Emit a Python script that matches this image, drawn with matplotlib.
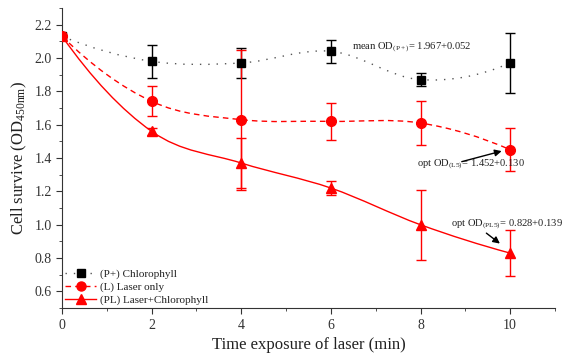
import matplotlib

matplotlib.use("Agg")

import matplotlib.pyplot as plt
import numpy as np
from matplotlib.lines import Line2D
from matplotlib.patches import PathPatch
from matplotlib.path import Path
from matplotlib.ticker import MultipleLocator

plt.rcParams["font.family"] = ["Liberation Serif", "DejaVu Serif"]
plt.rcParams["mathtext.fontset"] = "custom"
plt.rcParams["mathtext.rm"] = "Liberation Serif"
plt.rcParams["mathtext.it"] = "Liberation Serif"

time_min = [0, 2, 4, 6, 8, 10]

p_chl = [2.13, 1.98, 1.97, 2.04, 1.87, 1.97]
p_chl_err = [0.0, 0.10, 0.09, 0.07, 0.04, 0.18]

laser = [2.13, 1.74, 1.63, 1.62, 1.61, 1.45]
laser_err = [0.0, 0.09, 0.42, 0.11, 0.13, 0.13]

laser_chl = [2.13, 1.56, 1.37, 1.22, 1.00, 0.83]
laser_chl_err = [0.0, 0.02, 0.15, 0.04, 0.21, 0.14]

legend_labels = ["(P+) Chlorophyll", "(L) Laser only", "(PL) Laser+Chlorophyll"]


def smooth_path(x, y):
    # cubic bezier through the points, Catmull-Rom style tangents
    x = np.asarray(x, float)
    y = np.asarray(y, float)
    n = len(x)
    m = np.zeros(n)
    for i in range(1, n - 1):
        m[i] = (y[i + 1] - y[i - 1]) / (x[i + 1] - x[i - 1])
    m[0] = 2 * (y[1] - y[0]) / (x[1] - x[0]) - m[1]
    m[-1] = 2 * (y[-1] - y[-2]) / (x[-1] - x[-2]) - m[-2]
    verts = [(x[0], y[0])]
    codes = [Path.MOVETO]
    for i in range(n - 1):
        h = x[i + 1] - x[i]
        verts += [
            (x[i] + h / 3, y[i] + m[i] * h / 3),
            (x[i + 1] - h / 3, y[i + 1] - m[i + 1] * h / 3),
            (x[i + 1], y[i + 1]),
        ]
        codes += [Path.CURVE4] * 3
    return Path(verts, codes)


fig, ax = plt.subplots(figsize=(5.64, 3.6), dpi=100)
fig.subplots_adjust(left=0.110, right=0.984, bottom=0.144, top=0.978)

styles = [
    (p_chl, p_chl_err, "#555555", "black", "s", (0, (1, 5)), 6),
    (laser, laser_err, "red", "red", "o", (0, (4, 3)), 7),
    (laser_chl, laser_chl_err, "red", "red", "^", "-", 7),
]
handles = []
for (vals, errs, lcol, mcol, mk, ls, ms), label in zip(styles, legend_labels):
    ax.add_patch(PathPatch(smooth_path(time_min, vals), fill=False,
                           edgecolor=lcol, linestyle=ls, linewidth=1.0, zorder=2))
    ax.errorbar(time_min, vals, yerr=errs, fmt=mk, color=mcol, ecolor=mcol,
                markersize=ms, elinewidth=1.0, capsize=3.5, capthick=1.0, zorder=3)
    handles.append(Line2D([], [], color=lcol, linestyle=ls,
                          marker=mk, markersize=ms - 0.5, markerfacecolor=mcol,
                          markeredgecolor=mcol, linewidth=1.0))

ax.set_xlim(0, 11)
ax.set_ylim(0.5, 2.3)
ax.xaxis.set_major_locator(MultipleLocator(2))
ax.xaxis.set_minor_locator(MultipleLocator(1))
ax.yaxis.set_minor_locator(MultipleLocator(0.1))
ax.set_yticks(np.arange(0.6, 2.21, 0.2))
ax.set_yticklabels([f"{v:.1f}" for v in np.arange(0.6, 2.21, 0.2)])
for side in ("top", "right"):
    ax.spines[side].set_visible(False)
for side in ("left", "bottom"):
    ax.spines[side].set_color("#333333")
ax.tick_params(which="major", length=4, color="#333333", labelsize=10, labelcolor="#333333")
ax.tick_params(which="minor", length=2, color="#333333")

ax.set_xlabel("Time exposure of laser (min)", fontsize=12, color="#222222")
ax.set_ylabel(r"Cell survive (OD$_{\mathregular{450nm}}$)", fontsize=12, color="#222222")

note_kw = dict(fontsize=7.6, va="center", color="#222222")
ax.text(6.46, 2.065, r"mean OD$_{\mathregular{(P+)}}$= 1.967+0.052", **note_kw)
ax.text(7.93, 1.36, r"opt OD$_{\mathregular{(L5)}}$= 1.452+0.130", **note_kw)
ax.text(8.69, 1.0, r"opt OD$_{\mathregular{(PL5)}}$= 0.828+0.139", **note_kw)
ax.annotate("", xy=(9.87, 1.446), xytext=(8.86, 1.374),
            arrowprops=dict(arrowstyle="-|>", color="black", lw=1.0, mutation_scale=10))
ax.annotate("", xy=(9.82, 0.877), xytext=(9.42, 0.96),
            arrowprops=dict(arrowstyle="-|>", color="black", lw=1.0, mutation_scale=10))

ax.legend(handles, legend_labels, loc="lower left", frameon=False, fontsize=8,
          handlelength=2.8, handletextpad=0.3, labelspacing=0.25,
          borderaxespad=0.1, borderpad=0.2, labelcolor="#222222")

fig.savefig("out.png", dpi=100)
